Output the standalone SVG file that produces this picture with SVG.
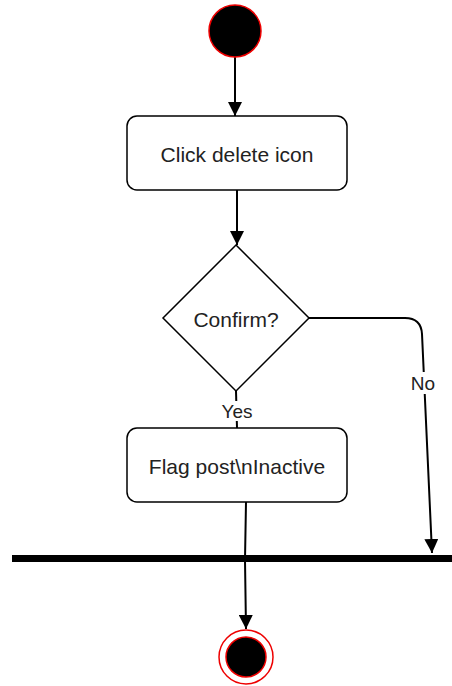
<svg xmlns="http://www.w3.org/2000/svg" width="452" height="686" viewBox="0 0 452 686">
<style>
.box{fill:#fff;stroke:#000;stroke-width:1.5}
.t{font-family:"Liberation Sans",Arial,sans-serif;font-size:21px;fill:#222;text-anchor:middle;dominant-baseline:central}
.lbl{font-family:"Liberation Sans",Arial,sans-serif;font-size:19px;fill:#222;text-anchor:middle;dominant-baseline:central}
.edge{fill:none;stroke:#000;stroke-width:2}
</style>
<defs>
<marker id="arr" viewBox="0 0 10 10" refX="10" refY="5" markerWidth="10" markerHeight="10" markerUnits="userSpaceOnUse" orient="auto">
<path d="M0,0 L10,5 L0,10 Z" fill="#000"/>
</marker>
<marker id="arr2" viewBox="0 0 14 14" refX="14" refY="7" markerWidth="14" markerHeight="14" markerUnits="userSpaceOnUse" orient="auto">
<path d="M0,0 L14,7 L0,14 Z" fill="#000"/>
</marker>
</defs>
<g id="connectors">
<path class="edge" d="M235,57 L235,116" marker-end="url(#arr2)"/>
<path class="edge" d="M237,190 L237,245" marker-end="url(#arr2)"/>
<path class="edge" d="M309,318 L405,318 Q421,318 422,334 L432,553" marker-end="url(#arr2)"/>
<path class="edge" d="M236,391 L237,428"/>
<path class="edge" d="M246,502 L245,560 L246,629" marker-end="url(#arr2)"/>
<rect x="411" y="372" width="24" height="22" fill="#fff"/>
<text class="lbl" x="423" y="383">No</text>
<rect x="220" y="401" width="34" height="20" fill="#fff"/>
<text class="lbl" x="237" y="411">Yes</text>
</g>
<g id="start">
<circle cx="235" cy="31" r="26" fill="#000" stroke="#e00" stroke-width="1.5"/>
</g>
<g id="click">
<rect class="box" x="127" y="116" width="220" height="74" rx="10"/>
<text class="t" x="237" y="154">Click delete icon</text>
</g>
<g id="confirm">
<path class="box" d="M236,245 L309,318 L236,391 L163,318 Z"/>
<text class="t" x="236" y="319">Confirm?</text>
</g>
<g id="flag">
<rect class="box" x="127" y="428" width="220" height="74" rx="10"/>
<text class="t" x="237" y="466">Flag post\nInactive</text>
</g>
<g id="bar">
<rect x="12" y="555" width="440" height="7" fill="#000"/>
</g>
<g id="end">
<circle cx="246" cy="657" r="27" fill="#fff" stroke="#e00" stroke-width="1.5"/>
<circle cx="246" cy="657" r="20" fill="#000" stroke="#e00" stroke-width="1.5"/>
</g>
</svg>
